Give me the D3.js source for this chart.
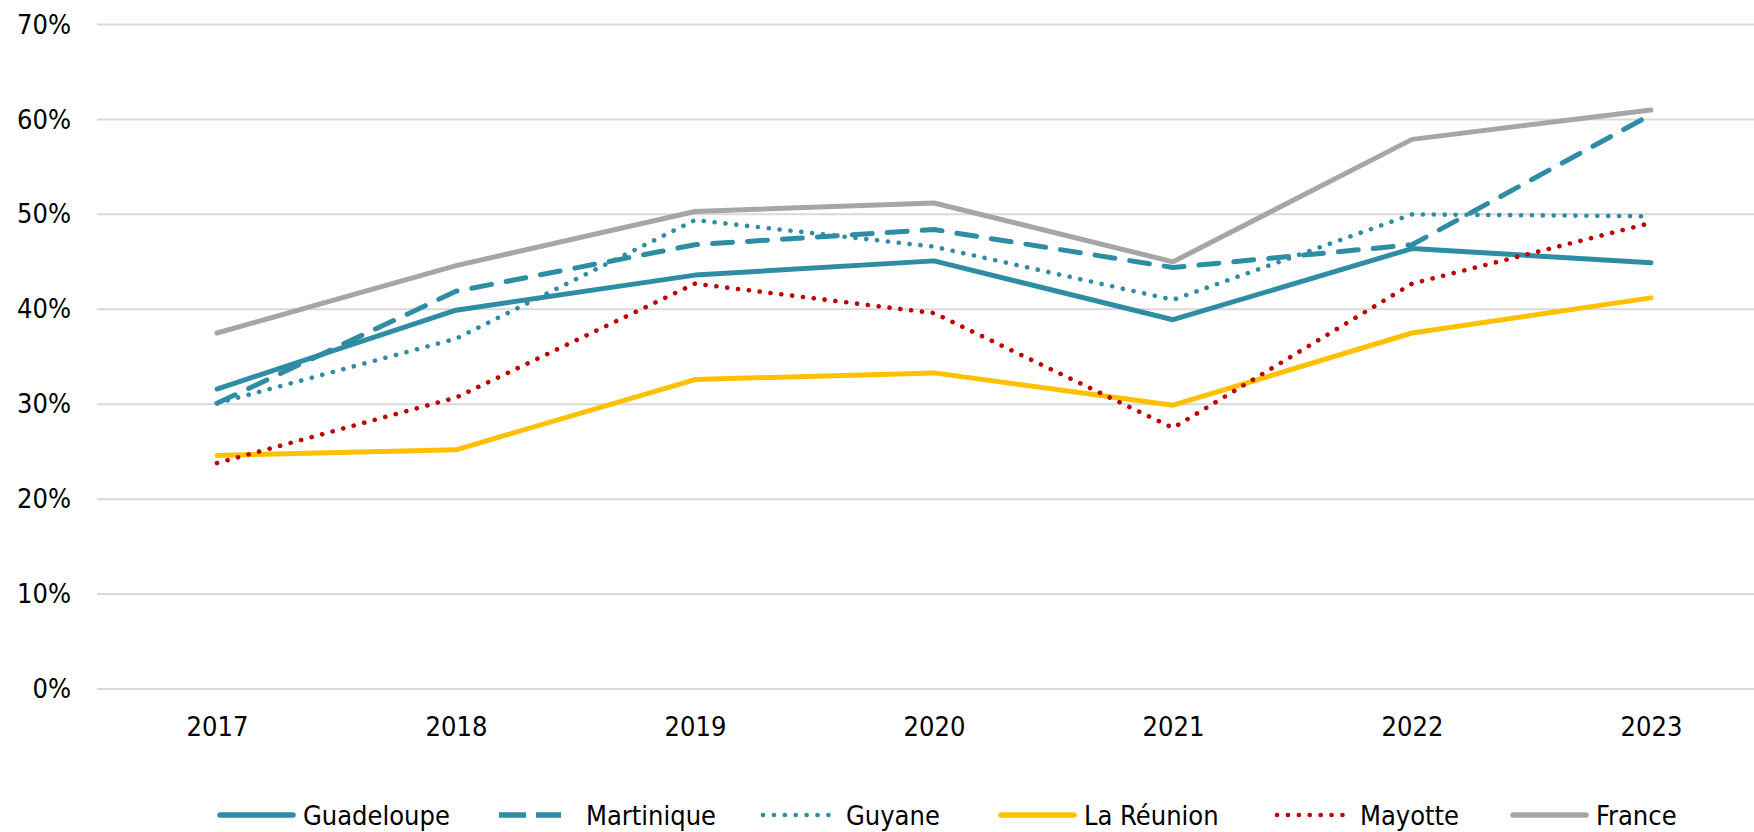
<!DOCTYPE html>
<html>
<head>
<meta charset="utf-8">
<script src="https://cdn.jsdelivr.net/npm/d3@7"></script>
<style>
  body { margin: 0; background: #fff; }
  text { font-family: "DejaVu Sans Condensed", "DejaVu Sans", sans-serif; fill: #000; }
</style>
</head>
<body>
<div id="chart"></div>
<script>
// data (share, 0-1)
const years = ["2017", "2018", "2019", "2020", "2021", "2022", "2023"];
const seriesNames = ["Guadeloupe", "Martinique", "Guyane", "La Réunion", "Mayotte", "France"];
const guadeloupe = [0.316, 0.399, 0.436, 0.451, 0.389, 0.464, 0.449];
const martinique = [0.301, 0.419, 0.468, 0.484, 0.444, 0.468, 0.605];
const guyane     = [0.301, 0.369, 0.494, 0.466, 0.410, 0.500, 0.498];
const reunion    = [0.246, 0.252, 0.326, 0.333, 0.299, 0.375, 0.412];
const mayotte    = [0.238, 0.307, 0.427, 0.396, 0.275, 0.427, 0.491];
const france     = [0.375, 0.446, 0.503, 0.512, 0.450, 0.579, 0.610];
const yTicks = [0, 0.1, 0.2, 0.3, 0.4, 0.5, 0.6, 0.7];

const values = [guadeloupe, martinique, guyane, reunion, mayotte, france];

// line styles
const styles = [
    { color: "#2E8CA5", dash: null },
    { color: "#2E8CA5", dash: "20,15", legendDash: "27,10" },
    { color: "#2E8CA5", dash: "0.1,10.8", dotted: true },
    { color: "#FFC000", dash: null },
    { color: "#C00000", dash: "0.1,10.8", dotted: true },
    { color: "#A6A6A6", dash: null }
];

const width = 1754, height = 832;

const svg = d3.select("#chart")
    .append("svg")
    .attr("width", width)
    .attr("height", height);

const x = d3.scalePoint()
    .domain(years)
    .range([217, 1651]);

const y = d3.scaleLinear()
    .domain([0, 0.7])
    .range([689, 24.5]);

// gridlines
svg.append("g")
    .selectAll("line")
    .data(yTicks)
    .join("line")
    .attr("x1", 97)
    .attr("x2", width)
    .attr("y1", d => y(d))
    .attr("y2", d => y(d))
    .attr("stroke", "#D9D9D9")
    .attr("stroke-width", 2);

// y axis labels
const yAxis = svg.append("g")
    .attr("transform", "translate(97,0)")
    .call(d3.axisLeft(y).tickValues(yTicks).tickFormat(d3.format(".0%")).tickSize(0).tickPadding(26));
yAxis.select(".domain").remove();
yAxis.selectAll("text")
    .attr("font-size", 27)
    .attr("font-family", null)
    .attr("fill", "#000");

// x axis labels
const xAxis = svg.append("g")
    .attr("transform", "translate(0,689)")
    .call(d3.axisBottom(x).tickSize(0).tickPadding(28));
xAxis.select(".domain").remove();
xAxis.selectAll("text")
    .attr("font-size", 27)
    .attr("font-family", null)
    .attr("fill", "#000");

// lines
const line = d3.line()
    .x((d, i) => x(years[i]))
    .y(d => y(d));

svg.append("g")
    .selectAll("path")
    .data(values)
    .join("path")
    .attr("fill", "none")
    .attr("stroke", (d, i) => styles[i].color)
    .attr("stroke-width", (d, i) => styles[i].dotted ? 4.6 : 5)
    .attr("stroke-dasharray", (d, i) => styles[i].dash)
    .attr("stroke-linecap", "round")
    .attr("stroke-linejoin", "round")
    .attr("d", line);

// legend
const legendX = [303, 586, 846, 1084, 1360, 1596];
const legend = svg.append("g");
seriesNames.forEach(function (name, i) {
    const tx = legendX[i];
    const s = styles[i];
    const x1 = s.legendDash ? tx - 87 : tx - 83;
    const x2 = s.legendDash ? tx - 25 : tx - 10;
    legend.append("line")
        .attr("x1", x1)
        .attr("x2", x2)
        .attr("y1", 815)
        .attr("y2", 815)
        .attr("stroke", s.color)
        .attr("stroke-width", s.dotted ? 4.6 : 5.5)
        .attr("stroke-linecap", s.legendDash ? "butt" : "round")
        .attr("stroke-dasharray", s.legendDash || s.dash);
    legend.append("text")
        .attr("x", tx)
        .attr("y", 825)
        .attr("font-size", 27)
        .text(name);
});
</script>
</body>
</html>
